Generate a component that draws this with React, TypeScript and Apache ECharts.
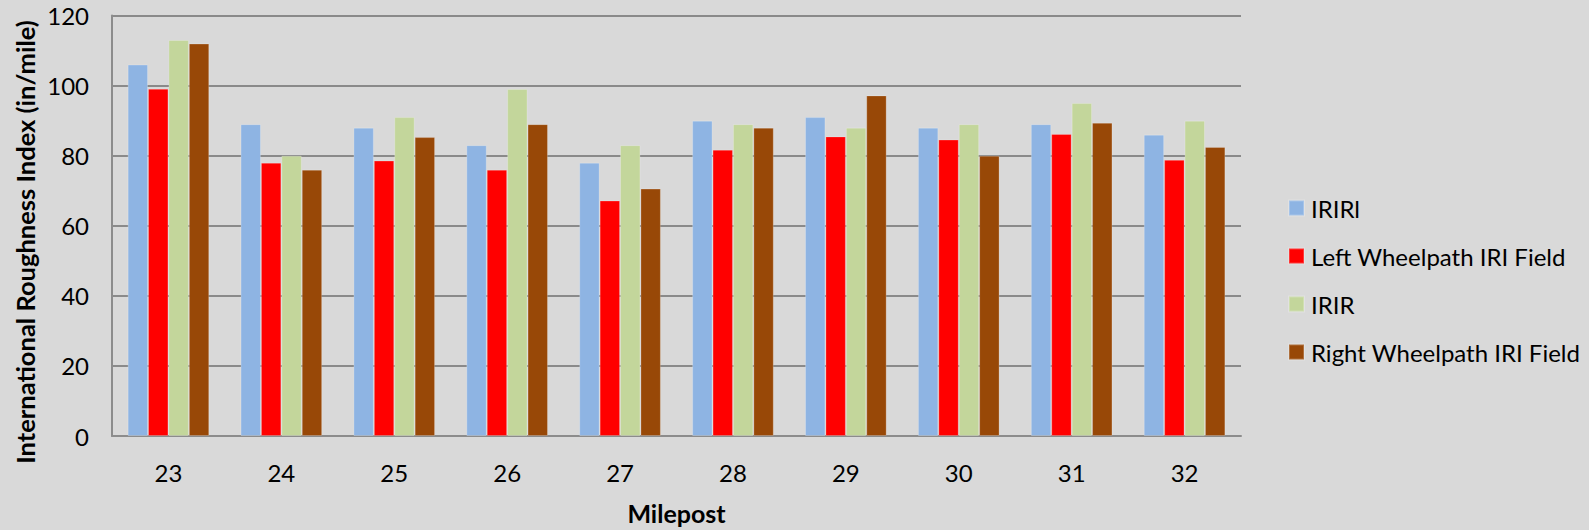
import React, { useEffect, useRef } from "react";
import * as echarts from "echarts";

// Mileposts along the surveyed section
const mileposts = ["23", "24", "25", "26", "27", "28", "29", "30", "31", "32"];

// IRI values (in/mile) per milepost
const iriLeft = [106, 89, 88, 83, 78, 90, 91, 88, 89, 86];
const leftWheelpathField = [99.1, 78.0, 78.6, 76.0, 67.2, 81.7, 85.5, 84.6, 86.2, 78.8];
const iriRight = [113, 80, 91, 99, 83, 89, 88, 89, 95, 90];
const rightWheelpathField = [112, 76.0, 85.3, 89, 70.6, 88, 97.2, 80, 89.4, 82.5];

const seriesNames = ["IRIRl", "Left Wheelpath IRI Field", "IRIR", "Right Wheelpath IRI Field"];
const seriesColors = ["#8eb4e3", "#ff0000", "#c3d69b", "#984807"];
const seriesData = [iriLeft, leftWheelpathField, iriRight, rightWheelpathField];

const FONT = "Lato, 'Open Sans', sans-serif";

export default function App() {
  const ref = useRef<HTMLDivElement>(null);

  useEffect(() => {
    if (!ref.current) return;
    const chart = echarts.init(ref.current, null, { renderer: "svg" });
    chart.setOption({
      animation: false,
      backgroundColor: "#d9d9d9",
      textStyle: { fontFamily: FONT, color: "#000" },
      grid: { left: 112, right: 348, top: 15.5, bottom: 89 },
      legend: {
        orient: "vertical",
        left: 1283,
        top: 191,
        itemWidth: 15,
        itemHeight: 15,
        itemGap: 24,
        icon: "rect",
        textStyle: { fontFamily: FONT, fontSize: 24, color: "#000", padding: [0, 0, 0, 2] },
        data: seriesNames,
      },
      xAxis: {
        type: "category",
        data: mileposts,
        name: "Milepost",
        nameLocation: "middle",
        nameGap: 64,
        nameTextStyle: { fontFamily: FONT, fontSize: 25, fontWeight: "bold", color: "#000" },
        axisLine: { lineStyle: { color: "#8c8c8c", width: 2 } },
        axisTick: { show: false },
        axisLabel: { fontFamily: FONT, fontSize: 24, color: "#000", margin: 24 },
      },
      yAxis: {
        type: "value",
        min: 0,
        max: 120,
        interval: 20,
        axisLine: { show: true, lineStyle: { color: "#8c8c8c", width: 2 } },
        axisTick: { show: false },
        axisLabel: { fontFamily: FONT, fontSize: 24, color: "#000", margin: 23 },
        splitLine: { lineStyle: { color: "#8a8a8a", width: 2 } },
      },
      graphic: [
        {
          type: "text",
          x: 25,
          y: 242,
          rotation: Math.PI / 2,
          style: {
            text: "International Roughness Index (in/mile)",
            fontFamily: FONT,
            fontSize: 25.5,
            fontWeight: "bold",
            fill: "#000",
            textAlign: "center",
            textVerticalAlign: "middle",
          },
        },
      ],
      series: seriesNames.map((name, i) => ({
        name,
        type: "bar",
        data: seriesData[i],
        barGap: "0%",
        barCategoryGap: "27.7%",
        itemStyle: {
          color: seriesColors[i],
          borderColor: "rgba(255,255,255,0.22)",
          borderWidth: 1,
        },
      })),
    });
    return () => chart.dispose();
  }, []);

  return (
    <div
      ref={ref}
      style={{ position: "fixed", left: 0, top: 0, width: 1589, height: 530 }}
    />
  );
}
